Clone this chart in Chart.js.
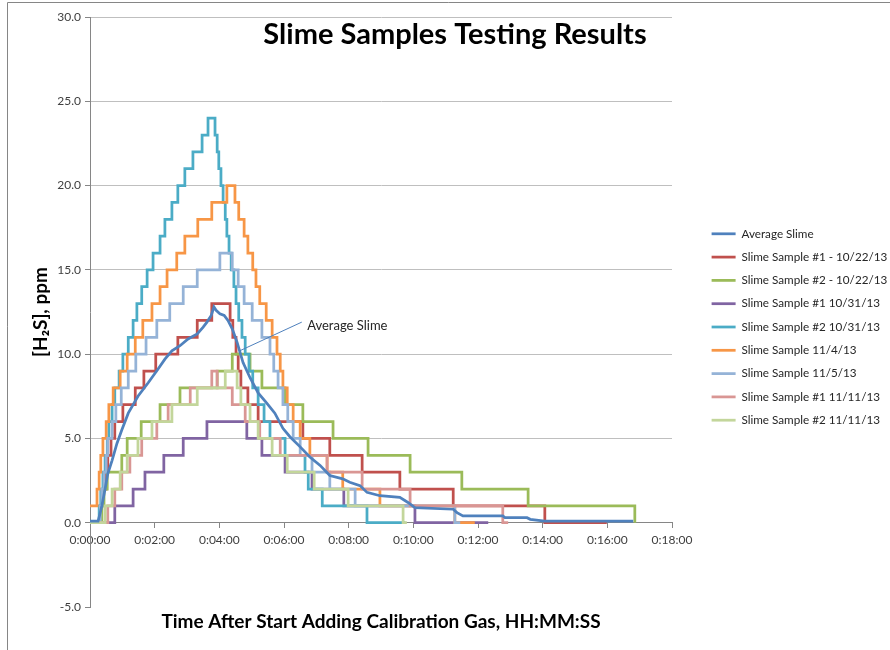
<!DOCTYPE html>
<html lang="en">
<head>
<meta charset="UTF-8">
<title>Slime Samples Testing Results</title>
<script src="https://cdn.jsdelivr.net/npm/chart.js"></script>
<style>
  body { margin: 0; background: #fff; }
  #wrap { width: 890px; height: 650px; }
</style>
</head>
<body>
<div id="wrap"><canvas id="myChart" width="890" height="650"></canvas></div>
<script>
// times are seconds after gas was started, values are H2S in ppm
// each step point = value holds from that time on

// Average Slime
var avgT = [0, 15, 19, 22, 28, 33, 41, 50, 59, 71, 89, 108, 126, 139, 152, 167, 182, 199, 210, 217, 225, 230, 234, 241, 249, 256, 264, 273, 284, 297, 312, 328, 343, 358, 371, 390, 408, 427, 445, 469, 482, 501, 514, 538, 575, 590, 603, 674, 681, 692, 766, 770, 811, 817, 844, 1008];
var avgV = [0.1, 0.1, 0.6, 1.0, 2.0, 2.9, 3.7, 4.7, 5.5, 6.5, 7.5, 8.3, 9.1, 9.7, 10.2, 10.5, 10.9, 11.2, 11.6, 11.9, 12.3, 12.8, 12.6, 12.4, 12.3, 12.0, 11.5, 10.7, 9.5, 8.6, 7.7, 7.1, 6.5, 5.6, 5.1, 4.5, 3.9, 3.4, 2.8, 2.6, 2.4, 2.2, 1.8, 1.6, 1.5, 1.2, 0.9, 0.8, 0.6, 0.4, 0.4, 0.3, 0.3, 0.2, 0.1, 0.1];

// Slime Sample #1 - 10/22/13
var s1022aT = [0, 19, 24, 30, 33, 39, 46, 61, 84, 100, 122, 163, 199, 226, 260, 265, 271, 275, 280, 293, 312, 395, 445, 505, 575, 674, 844, 959];
var s1022aV = [0, 1, 2, 3, 4, 5, 6, 7, 8, 9, 10, 11, 12, 13, 12, 11, 10, 9, 8, 7, 6, 5, 4, 3, 2, 1, 0, 0];

// Slime Sample #2 - 10/22/13
var s1022bT = [0, 22, 26, 32, 59, 69, 95, 130, 167, 236, 264, 297, 319, 362, 395, 451, 516, 594, 690, 813, 1011];
var s1022bV = [0, 1, 2, 3, 4, 5, 6, 7, 8, 9, 10, 9, 8, 7, 6, 5, 4, 3, 2, 1, 0];

// Slime Sample #1 10/31/13
var s1031aT = [0, 46, 80, 102, 137, 173, 217, 291, 319, 362, 412, 471, 603, 739];
var s1031aV = [0, 1, 2, 3, 4, 5, 6, 5, 4, 3, 2, 1, 0, 0];

// Slime Sample #2 10/31/13
var s1031bT = [0, 17, 20, 24, 28, 32, 35, 41, 46, 54, 61, 71, 80, 87, 96, 106, 117, 130, 139, 152, 163, 176, 191, 208, 219, 232, 236, 239, 243, 247, 251, 254, 258, 262, 267, 271, 276, 282, 288, 295, 302, 312, 323, 334, 362, 399, 405, 431, 514, 585];
var s1031bV = [0, 1, 2, 3, 4, 5, 6, 7, 8, 9, 10, 11, 12, 13, 14, 15, 16, 17, 18, 19, 20, 21, 22, 23, 24, 23, 22, 21, 20, 19, 18, 17, 16, 15, 14, 13, 12, 11, 10, 9, 8, 7, 6, 5, 4, 3, 2, 1, 0, 0];

// Slime Sample 11/4/13
var s1104T = [0, 13, 17, 20, 24, 30, 35, 43, 56, 69, 84, 98, 115, 130, 143, 161, 176, 200, 226, 254, 269, 276, 286, 293, 302, 308, 315, 327, 338, 347, 353, 358, 366, 377, 390, 408, 440, 469, 538, 677, 714];
var s1104V = [1, 2, 3, 4, 5, 6, 7, 8, 9, 10, 11, 12, 13, 14, 15, 16, 17, 18, 19, 20, 19, 18, 17, 16, 15, 14, 13, 12, 11, 10, 9, 8, 7, 6, 5, 4, 3, 2, 1, 0, 0];

// Slime Sample 11/5/13
var s1105T = [0, 19, 22, 26, 30, 33, 41, 48, 58, 71, 85, 104, 124, 148, 173, 199, 241, 264, 275, 286, 301, 319, 334, 341, 349, 358, 367, 377, 390, 412, 445, 492, 677, 687];
var s1105V = [0, 1, 2, 3, 4, 5, 6, 7, 8, 9, 10, 11, 12, 13, 14, 15, 16, 15, 14, 13, 12, 11, 10, 9, 8, 7, 6, 5, 4, 3, 2, 1, 0, 0];

// Slime Sample #1 11/11/13
var s1111aT = [0, 33, 46, 59, 74, 96, 124, 145, 186, 226, 236, 264, 288, 315, 353, 440, 505, 594, 766, 776];
var s1111aV = [0, 1, 2, 3, 4, 5, 6, 7, 8, 9, 8, 7, 6, 5, 4, 3, 2, 1, 0, 0];

// Slime Sample #2 11/11/13
var s1111bT = [0, 28, 41, 56, 69, 89, 115, 152, 199, 251, 273, 280, 297, 312, 338, 366, 416, 479, 581, 588];
var s1111bV = [0, 1, 2, 3, 4, 5, 6, 7, 8, 9, 8, 7, 6, 5, 4, 3, 2, 1, 0, 0];

var yTicks = [-5, 0, 5, 10, 15, 20, 25, 30];
var xMaxSec = 1080;
var xStepSec = 120;

var series = [
  { label: 'Average Slime', t: avgT, v: avgV, color: '#4F81BD', stepped: false },
  { label: 'Slime Sample #1 - 10/22/13', t: s1022aT, v: s1022aV, color: '#C0504D', stepped: true },
  { label: 'Slime Sample #2 - 10/22/13', t: s1022bT, v: s1022bV, color: '#9BBB59', stepped: true },
  { label: 'Slime Sample #1 10/31/13', t: s1031aT, v: s1031aV, color: '#8064A2', stepped: true },
  { label: 'Slime Sample #2 10/31/13', t: s1031bT, v: s1031bV, color: '#4BACC6', stepped: true },
  { label: 'Slime Sample 11/4/13', t: s1104T, v: s1104V, color: '#F79646', stepped: true },
  { label: 'Slime Sample 11/5/13', t: s1105T, v: s1105V, color: '#95B3D7', stepped: true },
  { label: 'Slime Sample #1 11/11/13', t: s1111aT, v: s1111aV, color: '#D99694', stepped: true },
  { label: 'Slime Sample #2 11/11/13', t: s1111bT, v: s1111bV, color: '#C3D69B', stepped: true }
];

function pts(t, v) {
  return t.map(function (x, i) { return { x: x, y: v[i] }; });
}

function hms(s) {
  var h = Math.floor(s / 3600);
  var m = Math.floor((s % 3600) / 60);
  var sec = s % 60;
  return h + ':' + String(m).padStart(2, '0') + ':' + String(sec).padStart(2, '0');
}

var datasets = series.map(function (s, i) {
  return {
    label: s.label,
    data: pts(s.t, s.v),
    borderColor: s.color,
    backgroundColor: s.color,
    borderWidth: 2.75,
    pointRadius: 0,
    stepped: s.stepped,
    fill: false,
    xAxisID: 'x',
    yAxisID: 'y',
    // later samples sit on top of earlier ones, the average above all
    order: i === 0 ? 0 : 10 - i
  };
});

// fixed legend width so the plot ends where it should
var legendWidth = {
  id: 'legendWidth',
  beforeLayout: function (chart) {
    var lg = chart.legend;
    if (!lg || lg._fixedFit) return;
    var fit = lg.fit;
    lg.fit = function () {
      fit.call(this);
      this.width = 190;
    };
    lg._fixedFit = true;
  }
};

// chart title, frame and the callout for the average line
var decor = {
  id: 'decor',
  beforeDraw: function (chart) {
    var ctx = chart.ctx;
    ctx.save();
    ctx.fillStyle = '#fff';
    ctx.fillRect(0, 0, chart.width, chart.height);
    ctx.strokeStyle = '#868686';
    ctx.lineWidth = 1;
    ctx.beginPath();
    ctx.moveTo(7.5, 650);
    ctx.lineTo(7.5, 2.5);
    ctx.lineTo(890, 2.5);
    ctx.stroke();
    ctx.restore();
  },
  afterDatasetsDraw: function (chart) {
    var ctx = chart.ctx;
    var x = chart.scales.x, y = chart.scales.y;
    ctx.save();
    ctx.fillStyle = '#000';
    ctx.font = 'bold 29px Lato, "Open Sans", sans-serif';
    ctx.textAlign = 'center';
    ctx.textBaseline = 'middle';
    ctx.fillText('Slime Samples Testing Results', 455, 35);

    ctx.strokeStyle = '#4F81BD';
    ctx.lineWidth = 1;
    ctx.beginPath();
    ctx.moveTo(x.getPixelForValue(393), y.getPixelForValue(11.9));
    ctx.lineTo(x.getPixelForValue(278), y.getPixelForValue(10.2));
    ctx.stroke();

    ctx.fillStyle = '#262626';
    ctx.font = '13px Lato, "Open Sans", sans-serif';
    ctx.textAlign = 'left';
    ctx.fillText('Average Slime', x.getPixelForValue(403), y.getPixelForValue(11.7));
    ctx.restore();
  }
};

Chart.defaults.font.family = 'Lato, "Open Sans", sans-serif';
Chart.defaults.color = '#404040';

new Chart(document.getElementById('myChart'), {
  type: 'line',
  data: { datasets: datasets },
  plugins: [legendWidth, decor],
  options: {
    responsive: false,
    animation: false,
    layout: { padding: { left: 10, right: 0, top: 17, bottom: 13 } },
    plugins: {
      tooltip: { enabled: false },
      legend: {
        position: 'right',
        labels: {
          usePointStyle: true,
          pointStyle: 'line',
          pointStyleWidth: 24,
          padding: 11.6,
          color: '#262626',
          font: { size: 11.7 },
          sort: function (a, b) { return a.datasetIndex - b.datasetIndex; }
        }
      }
    },
    scales: {
      x: {
        type: 'linear',
        position: { y: 0 },
        min: 0,
        max: xMaxSec,
        ticks: {
          stepSize: xStepSec,
          maxRotation: 0,
          padding: 5,
          font: { size: 12 },
          callback: function (v) { return hms(v); }
        },
        grid: { drawOnChartArea: false, tickLength: 5, tickColor: '#868686' },
        border: { color: '#868686' }
      },
      xLabel: {
        type: 'linear',
        axis: 'x',
        position: 'bottom',
        min: 0,
        max: xMaxSec,
        ticks: { display: false },
        grid: { display: false, drawTicks: false },
        border: { display: false },
        title: {
          display: true,
          text: 'Time After Start Adding Calibration Gas, HH:MM:SS',
          color: '#000',
          font: { size: 19, weight: 'bold' },
          padding: { top: 0, bottom: 4 }
        },
        afterFit: function (s) { s.height = 30; }
      },
      y: {
        min: yTicks[0],
        max: yTicks[yTicks.length - 1],
        ticks: {
          stepSize: 5,
          padding: 4,
          font: { size: 12 },
          callback: function (v) { return v.toFixed(1); }
        },
        grid: {
          color: function (c) { return c.tick && c.tick.value === -5 ? 'rgba(0,0,0,0)' : '#BFBFBF'; },
          tickLength: 5,
          tickColor: '#868686'
        },
        border: { color: '#868686' },
        title: {
          display: true,
          text: '[H\u2082S], ppm',
          color: '#000',
          font: { size: 19, weight: 'bold' },
          padding: { top: 19, bottom: 0 }
        },
        afterFit: function (s) { s.width = 80; }
      },
      yGap: {
        type: 'linear',
        position: 'right',
        ticks: { display: false },
        grid: { display: false, drawTicks: false },
        border: { display: false },
        afterFit: function (s) { s.width = 28; }
      }
    }
  }
});
</script>
</body>
</html>
